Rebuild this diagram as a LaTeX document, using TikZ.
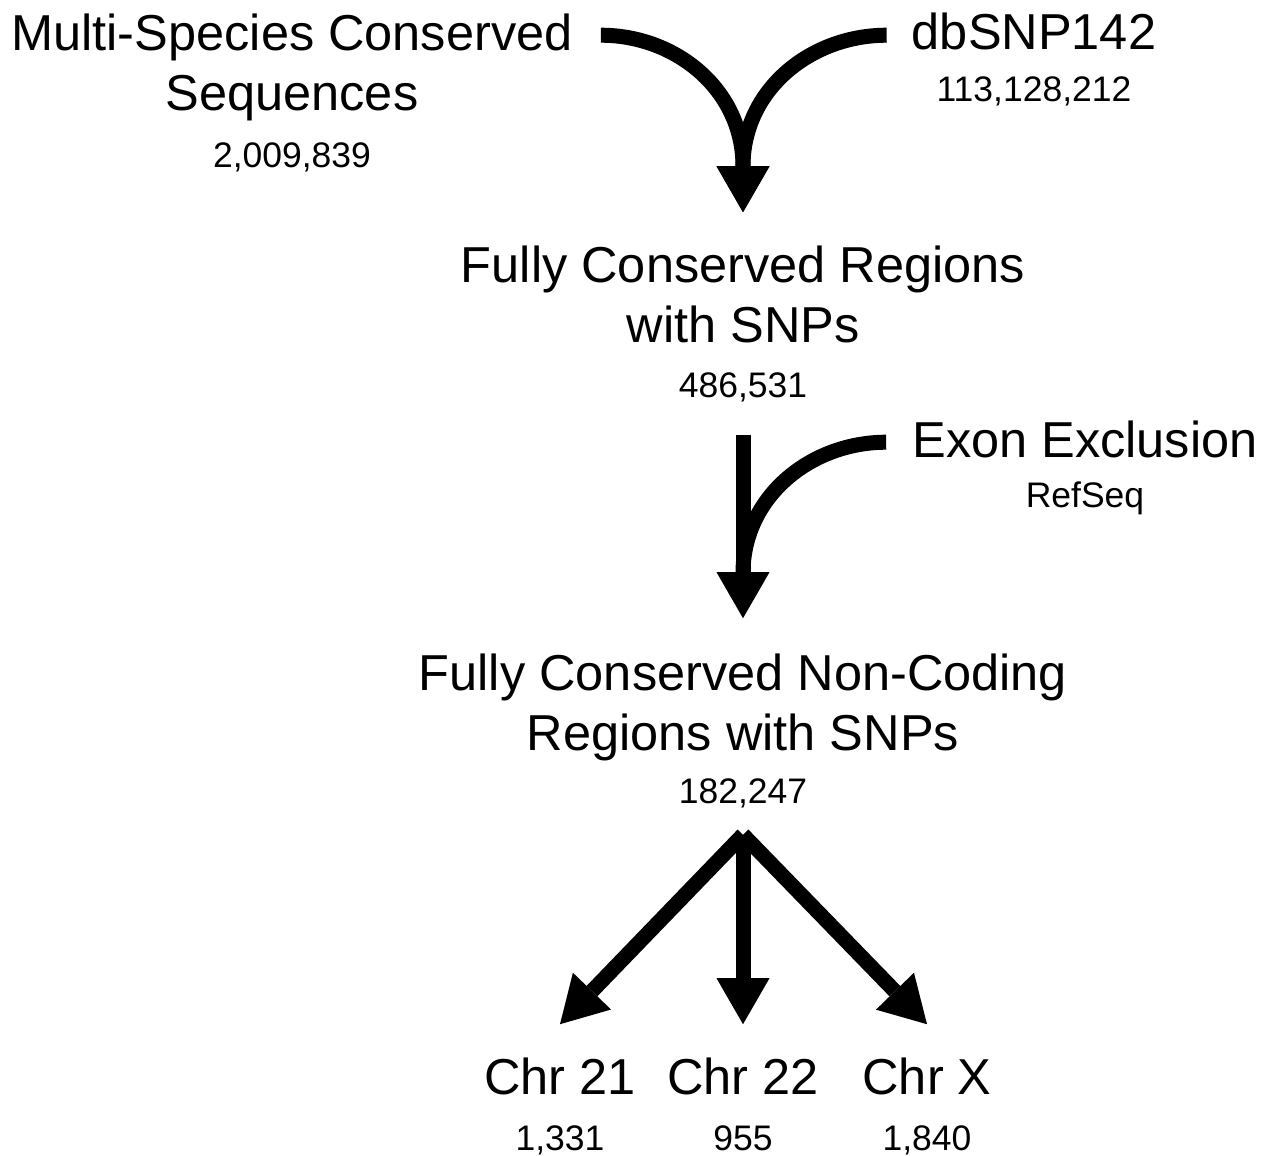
\documentclass[tikz,border=0pt]{standalone}
\usepackage{fontspec}
\setmainfont{Liberation Sans}
\usetikzlibrary{arrows.meta}

\newcommand{\tally}[1]{{\fontsize{35.5}{42}\selectfont #1}}

\begin{document}
\begin{tikzpicture}[x=1pt,y=-1pt,
	block/.style={
		% The shape:
		rectangle,
		% No padding, so anchors sit on the text itself
		inner sep=0pt,
		% Font
		font=\fontsize{50.5}{60}\selectfont,
		% base is the baseline of the last line (the count)
		align=center,
		anchor=base
		},
	flow/.style={
		% thick black arrows with a wide head
		line width=15pt,
		-{Triangle[length=46pt,width=53pt,line width=0pt]}
		}]

	\useasboundingbox (0,0) rectangle (1270,1156);

	\node (msc) [block] at (292,167) {Multi-Species Conserved\\Sequences\\[-3pt]\tally{2,009,839}};
	\node (dbsnp) [block] at (1034,102) {dbSNP142\\[-8pt]\tally{113,128,212}};
	\node (fcr) [block] at (743,397) {Fully Conserved Regions\\with SNPs\\[-5pt]\tally{486,531}};
	\node (exon) [block] at (1085,507) {Exon Exclusion\\[-10pt]\tally{RefSeq}};
	\node (fcnc) [block] at (743,803) {Fully Conserved Non-Coding\\Regions with SNPs\\[-7pt]\tally{182,247}};
	\node (chr21) [block] at (560,1150) {Chr 21\\[-4pt]\tally{1,331}};
	\node (chr22) [block] at (743,1150) {Chr 22\\[-4pt]\tally{955}};
	\node (chrx) [block] at (927,1150) {Chr X\\[-4pt]\tally{1,840}};

	% the two sources bend down into one arrow
	\draw[flow] ([shift={(28pt,-22pt)}]msc.north east) to[out=0,in=90] ([yshift=79pt]fcr.north) -- ([yshift=33pt]fcr.north);
	\draw[flow] ([shift={(-25pt,-22pt)}]dbsnp.north west) to[out=180,in=90] ([yshift=79pt]fcr.north) -- ([yshift=33pt]fcr.north);

	% exon filter joins the straight arrow
	\draw[flow] ([yshift=-33pt]fcr.south) -- ([yshift=35pt]fcnc.north);
	\draw[line width=15pt] ([shift={(-26pt,-22pt)}]exon.north west) to[out=180,in=90] ([yshift=80pt]fcnc.north);

	% split by chromosome
	\draw[flow] ([yshift=-27pt]fcnc.south) -- ([yshift=33pt]chr21.north);
	\draw[flow] ([yshift=-27pt]fcnc.south) -- ([yshift=33pt]chr22.north);
	\draw[flow] ([yshift=-27pt]fcnc.south) -- ([yshift=33pt]chrx.north);

\end{tikzpicture}
\end{document}
